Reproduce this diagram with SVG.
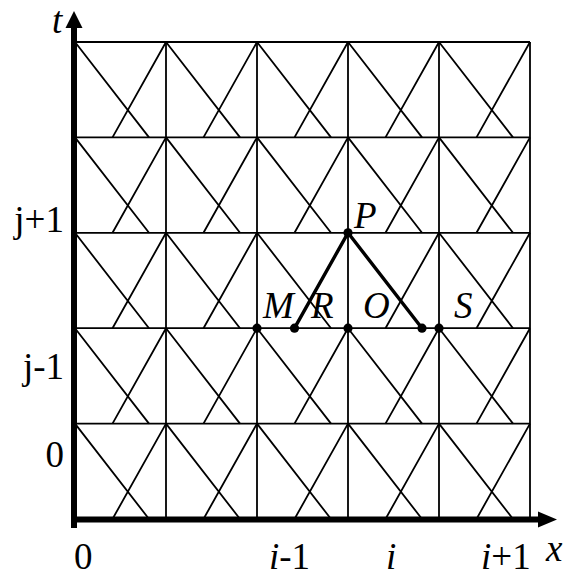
<svg xmlns="http://www.w3.org/2000/svg" width="563" height="577" viewBox="0 0 563 577">
<style>
.g{stroke:#000;stroke-width:1.8;fill:none;stroke-linecap:butt}
.ax{stroke:#000;stroke-width:6;fill:none}
.bold{stroke:#000;stroke-width:3.4;fill:none;stroke-linejoin:miter}
.pt{fill:#000}
.it{font-style:italic}
</style>
<rect width="563" height="577" fill="#fff"/>
<g id="grid" class="g">
<path d="M75,42H530M75,137.4H530M75,232.8H530M75,328.2H530M75,423.6H530"/>
<path d="M166,42V519M257,42V519M348,42V519M439,42V519M530,42V519"/>
<path d="M75,42L149,137.4M166,42L240,137.4M257,42L331,137.4M348,42L422,137.4M439,42L513,137.4M166,42L112.5,137.4M257,42L203.5,137.4M348,42L294.5,137.4M439,42L385.5,137.4M530,42L476.5,137.4"/>
<path d="M75,137.4L149,232.8M166,137.4L240,232.8M257,137.4L331,232.8M348,137.4L422,232.8M439,137.4L513,232.8M166,137.4L112.5,232.8M257,137.4L203.5,232.8M348,137.4L294.5,232.8M439,137.4L385.5,232.8M530,137.4L476.5,232.8"/>
<path d="M75,232.8L149,328.2M166,232.8L240,328.2M257,232.8L331,328.2M348,232.8L422,328.2M439,232.8L513,328.2M166,232.8L112.5,328.2M257,232.8L203.5,328.2M348,232.8L294.5,328.2M439,232.8L385.5,328.2M530,232.8L476.5,328.2"/>
<path d="M75,328.2L149,423.6M166,328.2L240,423.6M257,328.2L331,423.6M348,328.2L422,423.6M439,328.2L513,423.6M166,328.2L112.5,423.6M257,328.2L203.5,423.6M348,328.2L294.5,423.6M439,328.2L385.5,423.6M530,328.2L476.5,423.6"/>
<path d="M75,423.6L149,519M166,423.6L240,519M257,423.6L331,519M348,423.6L422,519M439,423.6L513,519M166,423.6L112.5,519M257,423.6L203.5,519M348,423.6L294.5,519M439,423.6L385.5,519M530,423.6L476.5,519"/>
</g>
<g id="axes">
<path class="ax" d="M74,528V26"/>
<polygon points="74,11 65.5,28 82.5,28"/>
<path class="ax" d="M71,519.5H540"/>
<polygon points="557,519.5 538,511.5 538,527.5"/>
</g>
<g id="connectors">
<path class="bold" d="M294.5,328.2L348,232.8L422,328.2"/>
</g>
<g font-family="Liberation Serif, Times New Roman, serif" font-size="37" fill="#000">
<g id="node-P"><circle class="pt" cx="348" cy="232.8" r="4.6"/><text class="it" x="354" y="228">P</text></g>
<g id="node-M"><circle class="pt" cx="257" cy="328.2" r="4.6"/><text class="it" x="263" y="318">M</text></g>
<g id="node-R"><circle class="pt" cx="294.5" cy="328.2" r="4.6"/><text class="it" x="311" y="318">R</text></g>
<g id="node-O"><circle class="pt" cx="348" cy="328.2" r="4.6"/><text class="it" x="363" y="318">O</text></g>
<g id="node-Q"><circle class="pt" cx="422" cy="328.2" r="4.6"/></g>
<g id="node-S"><circle class="pt" cx="439" cy="328.2" r="4.6"/><text class="it" x="454" y="318">S</text></g>
<g id="labels">
<text class="it" x="52" y="33">t</text>
<text class="it" x="546" y="561">x</text>
<text x="74" y="569">0</text>
<text x="269" y="569"><tspan class="it">i</tspan>-1</text>
<text class="it" x="386" y="569">i</text>
<text x="481" y="569"><tspan class="it">i</tspan>+1</text>
<text x="64" y="232" text-anchor="end">j+1</text>
<text x="64" y="379" text-anchor="end">j-1</text>
<text x="64" y="467" text-anchor="end">0</text>
</g>
</g>
</svg>
